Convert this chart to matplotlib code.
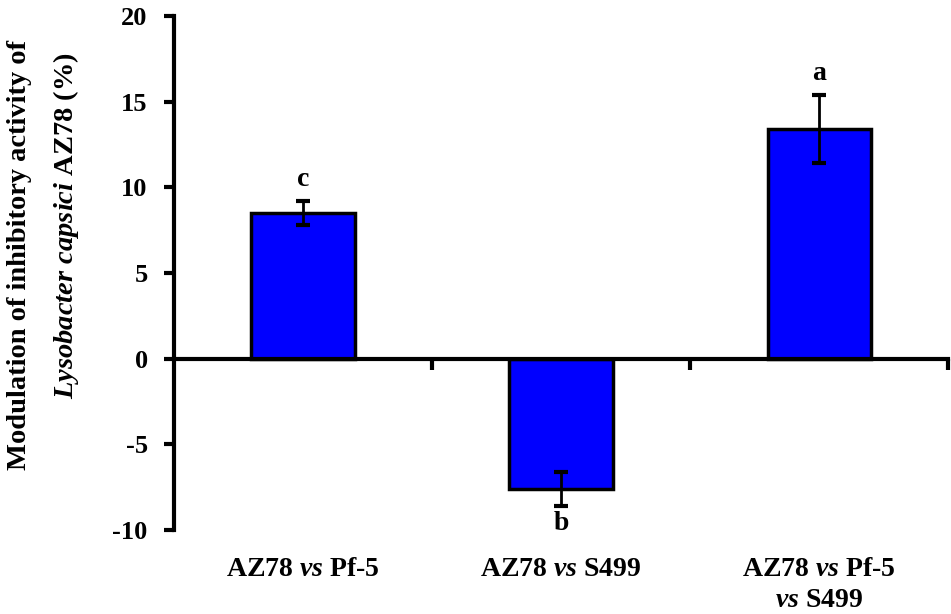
import matplotlib
matplotlib.use("Agg")
import matplotlib.pyplot as plt

# values
groups = ["AZ78 $\\mathit{vs}$ Pf-5", "AZ78 $\\mathit{vs}$ S499", "AZ78 $\\mathit{vs}$ Pf-5\n$\\mathit{vs}$ S499"]
means = [8.5, -7.6, 13.4]
errs = [0.7, 1.0, 2.0]
letters = ["c", "b", "a"]

plt.rcParams["font.family"] = "Liberation Serif"
plt.rcParams["font.weight"] = "bold"
plt.rcParams["axes.unicode_minus"] = False
plt.rcParams["mathtext.fontset"] = "custom"
plt.rcParams["mathtext.rm"] = "Liberation Serif:bold"
plt.rcParams["mathtext.it"] = "Liberation Serif:italic:bold"

fig = plt.figure(figsize=(9.51, 6.14), dpi=100)
ax = fig.add_axes([0.183, 0.137, 0.814, 0.837])

xpos = [0.5, 1.5, 2.5]
ax.bar(xpos, means, width=0.4, color="#0000ff", edgecolor="black", linewidth=2.5, zorder=2)
ax.errorbar(xpos, means, yerr=errs, fmt="none", ecolor="black", elinewidth=2, capsize=5, capthick=3, zorder=3)

for x, m, e, t in zip(xpos, means, errs, letters):
    if m >= 0:
        ax.text(x, m + e + 0.5, t, ha="center", va="bottom", fontsize=20)
    else:
        ax.text(x, m - e - 0.3, t, ha="center", va="top", fontsize=20)

ax.set_xlim(0, 3)
ax.set_ylim(-10, 20)
ax.set_yticks([-10, -5, 0, 5, 10, 15, 20])
ax.tick_params(axis="y", direction="out", length=7, width=3, labelsize=19, pad=12)
ax.set_xticks([1, 2, 3])
ax.set_xticklabels([])
ax.tick_params(axis="x", direction="out", length=8, width=3)

for s in ["top", "right"]:
    ax.spines[s].set_visible(False)
ax.spines["left"].set_linewidth(3)
ax.spines["bottom"].set_linewidth(3)
ax.spines["bottom"].set_position(("data", 0))

for x, g in zip(xpos, groups):
    ax.text(x, -11.6, g, ha="center", va="top", fontsize=20, linespacing=1.3)

fig.text(0.020, 1 - 255 / 614, "Modulation of inhibitory activity of",
         rotation=90, ha="center", va="center", fontsize=20.5)
fig.text(0.069, 1 - 226 / 614, "$\\mathit{Lysobacter\\ capsici}$ AZ78 (%)",
         rotation=90, ha="center", va="center", fontsize=20.5)

fig.savefig("out.png", dpi=100)
